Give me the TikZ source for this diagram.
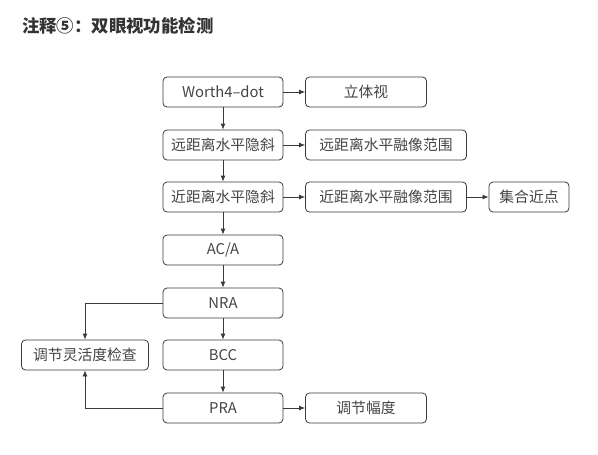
\documentclass[tikz,border=0pt]{standalone}
\usepackage{fontspec}
\setmainfont{Noto Sans CJK SC}
\newfontfamily\cjk{Noto Sans CJK SC}
\usetikzlibrary{arrows.meta}
\definecolor{boxgray}{HTML}{3A3A3A}
\definecolor{txtgray}{HTML}{444444}
\definecolor{titlegray}{HTML}{333333}
\begin{document}
\begin{tikzpicture}[x=1pt, y=-1pt,
		box/.style={draw=boxgray, line width=0.8pt, rounded corners=4pt, minimum height=30pt, inner sep=0pt, text=txtgray, font=\cjk\fontsize{14.8}{16}\selectfont},
		arr/.style={draw=boxgray, line width=0.8pt, -{Latex[length=6pt,width=5pt]}}]
		\useasboundingbox (0, 0) rectangle (598, 455);
		\node[anchor=west, inner sep=0pt, text=titlegray, font=\cjk\bfseries\fontsize{17.4}{19}\selectfont] (title) at (22, 26) {注释⑤：双眼视功能检测};
		% main column
		\node[box, minimum width=120pt] (worth) at (223, 92) {Worth4–dot};
		\node[box, minimum width=120pt] (farph) at (223, 145) {远距离水平隐斜};
		\node[box, minimum width=120pt] (nearph) at (223, 197) {近距离水平隐斜};
		\node[box, minimum width=120pt] (aca) at (223, 250) {AC/A};
		\node[box, minimum width=120pt] (nra) at (223, 303) {NRA};
		\node[box, minimum width=120pt] (bcc) at (223, 355) {BCC};
		\node[box, minimum width=120pt] (pra) at (223, 408) {PRA};
		% side boxes
		\node[box, minimum width=121pt] (stereo) at (366, 92) {立体视};
		\node[box, minimum width=161pt] (farfus) at (386, 145) {远距离水平融像范围};
		\node[box, minimum width=161pt] (nearfus) at (386, 197) {近距离水平融像范围};
		\node[box, minimum width=80pt] (npc) at (529, 197) {集合近点};
		\node[box, minimum width=127pt] (flex) at (85, 355) {调节灵活度检查};
		\node[box, minimum width=121pt] (amp) at (366, 408) {调节幅度};
		% connectors
		\draw[arr] (worth) -- (stereo);
		\draw[arr] (worth) -- (farph);
		\draw[arr] (farph) -- (farfus);
		\draw[arr] (farph) -- (nearph);
		\draw[arr] (nearph) -- (nearfus);
		\draw[arr] (nearfus) -- (npc);
		\draw[arr] (nearph) -- (aca);
		\draw[arr] (aca) -- (nra);
		\draw[arr] (nra) -- (bcc);
		\draw[arr] (bcc) -- (pra);
		\draw[arr] (pra) -- (amp);
		\draw[arr] (nra.west) -| (flex.north);
		\draw[arr] (pra.west) -| (flex.south);
	\end{tikzpicture}
\end{document}
